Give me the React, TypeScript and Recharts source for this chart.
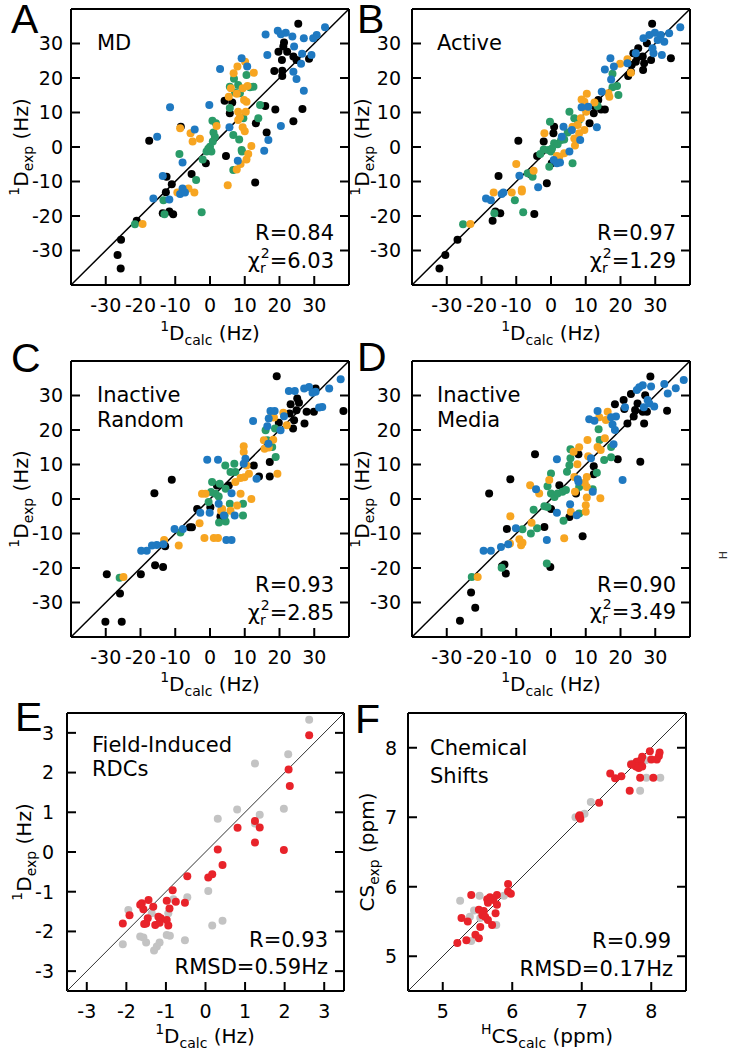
import React from "react";
import { ScatterChart, Scatter, XAxis, YAxis } from "recharts";

const FONT = "'DejaVu Sans', Verdana, sans-serif";
const LETTER_FONT = "'Liberation Sans', Arial, sans-serif";

const BLACK = "#000000";
const BLUE = "#1f79c1";
const ORANGE = "#f7a521";
const GREEN = "#2a9b68";
const RED = "#e8232a";
const GRAY = "#c3c3c3";

type Pt = [number, number];

// tick values
const rdcTicks = [-30, -20, -10, 0, 10, 20, 30];
const fieldTicks = [-3, -2, -1, 0, 1, 2, 3];
const csTicks = [5, 6, 7, 8];

// ---- panel A: MD ----
const aBlack: Pt[] = [
  [-25.6, -26.9], [-26.6, -31.3], [-25.7, -35.2], [-21.1, -21.4], [-13.6, -19.2], [-11.7, -18.7],
  [-10.6, -19.5], [-12.7, -13.1], [-11.0, -10.8], [-12.5, -8.6], [-5.3, -7.8], [-1.2, -4.7],
  [4.6, -2.6], [-17.5, 1.8], [-8.4, 5.9], [4.2, 13.4], [5.7, 9.8], [6.4, 12.9], [13.2, 6.9],
  [15.9, 11.9], [16.3, 4.2], [18.8, 10.9], [13.0, -10.3], [24.0, 7.5], [26.6, 11.0], [18.5, 22.0],
  [20.8, 20.6], [20.8, 22.1], [19.7, 27.6], [21.1, 29.1], [21.3, 30.3], [20.7, 25.2], [22.2, 27.6],
  [24.0, 26.2], [24.9, 25.2], [25.4, 35.7], [28.5, 25.6],
];
const aBlue: Pt[] = [
  [33.1, 34.7], [30.7, 32.5], [29.7, 31.5], [27.0, 31.5], [26.5, 27.0], [29.2, 26.7], [26.2, 24.1],
  [27.0, 16.3], [24.9, 19.7], [24.0, 21.8], [24.2, 29.1], [23.7, 32.0], [21.8, 33.1], [19.5, 33.7],
  [20.4, 32.7], [16.0, 32.6], [16.5, 26.7], [20.4, 6.1], [16.8, 2.0], [15.6, -1.1], [9.1, 25.7],
  [10.7, 23.3], [2.9, 22.6], [-0.2, 12.2], [5.6, 5.7], [8.0, -4.0], [-11.5, 11.5], [-15.2, 3.0],
  [-4.4, 5.1], [-7.9, -4.5], [-13.6, -8.4], [-16.3, -14.9], [-11.7, -15.2], [-7.9, -12.0],
  [-8.6, -13.6], [-7.2, -13.2],
];
const aOrange: Pt[] = [
  [-19.4, -22.3], [-8.6, 5.4], [-5.6, 4.0], [-5.0, 1.6], [-2.9, 2.4], [1.9, 6.1], [-6.2, -12.0],
  [-4.5, -13.2], [-9.4, -13.2], [5.1, -11.1], [7.7, -6.5], [8.8, -4.9], [10.5, -3.6], [11.0, -2.0],
  [11.9, 0.3], [7.9, 23.3], [10.1, 24.7], [12.6, 21.5], [6.8, 21.4], [10.8, 17.7], [6.0, 17.0],
  [7.7, 15.4], [5.4, 14.6], [9.8, 13.6], [9.4, 17.0], [10.5, 13.1], [8.1, 10.2], [10.3, 10.2],
  [8.6, 8.6], [9.4, 5.7], [10.0, 4.6], [8.1, 7.8],
];
const aGreen: Pt[] = [
  [-21.6, -22.4], [-13.4, -15.4], [-13.1, -19.5], [-2.4, -18.9], [-4.0, -9.6], [-8.8, -2.0],
  [-2.1, -3.6], [-1.0, -1.3], [0.0, 0.1], [0.8, 1.6], [1.4, 3.0], [1.0, 4.2], [1.7, 6.9], [0.7, 7.6],
  [-0.5, -0.5], [0.4, -1.3], [5.7, 11.3], [6.9, 19.8], [8.1, 18.0], [7.2, 15.8], [5.7, 17.5],
  [12.5, 17.5], [10.5, 20.9], [8.6, 15.6], [9.6, 8.3], [11.5, 17.3], [14.4, 12.2], [13.9, 8.3],
  [6.7, 3.5], [9.1, -0.9], [8.4, 2.2], [6.7, -6.7], [9.2, -1.3],
];

// ---- panel B: Active ----
const bBlack: Pt[] = [
  [-32.1, -35.2], [-30.4, -31.3], [-26.9, -26.9], [-16.8, -21.4], [-16.0, -18.7], [-14.6, -19.2],
  [-15.1, -8.4], [-9.4, 1.8], [-6.0, -7.8], [-4.0, -2.6], [-4.8, -19.4], [-1.2, -10.5], [-2.1, 1.6],
  [0.9, 5.9], [0.7, 4.0], [0.2, -4.7], [11.1, 6.9], [12.3, 9.8], [12.5, 11.9], [14.4, 10.9],
  [15.5, 10.9], [13.6, 13.6], [22.2, 20.6], [23.0, 21.8], [23.7, 27.2], [25.1, 28.6], [26.4, 26.2],
  [26.8, 24.3], [24.4, 24.7], [26.5, 22.3], [28.8, 25.2], [27.6, 30.1], [29.1, 35.7], [34.5, 25.7],
  [23.2, 23.8], [24.9, 26.0],
];
const bBlue: Pt[] = [
  [37.2, 34.7], [34.0, 33.0], [32.6, 30.5], [31.6, 32.5], [29.9, 33.1], [28.3, 32.5], [26.6, 31.5],
  [30.7, 31.0], [31.9, 26.7], [29.5, 27.2], [29.2, 28.6], [24.4, 27.2], [22.0, 24.3], [17.1, 25.7],
  [18.1, 23.3], [15.5, 22.5], [17.3, 19.6], [14.6, 16.0], [10.7, 11.7], [8.8, 11.5], [13.2, 5.7],
  [8.4, 2.0], [3.6, 5.9], [3.1, 3.0], [5.3, -1.3], [0.8, -3.8], [1.7, -4.7], [2.6, -4.5], [6.0, 4.9],
  [-3.7, -11.7], [-9.1, -8.3], [-13.7, -13.2], [-14.2, -13.6], [-18.7, -14.9], [-17.3, -15.4],
];
const bOrange: Pt[] = [
  [-23.2, -22.3], [-16.5, -13.2], [-11.3, -13.2], [-8.4, -12.3], [-10.0, -4.9], [-5.0, -6.9],
  [-1.9, 4.0], [2.4, -2.8], [3.8, -1.8], [6.9, 0.4], [8.1, 4.0], [9.6, 4.9], [7.7, 6.4], [6.2, 5.9],
  [8.6, 8.3], [10.1, 10.2], [9.6, 13.1], [8.8, 13.8], [10.3, 15.4], [12.5, 12.9], [16.5, 15.6],
  [16.8, 14.6], [19.9, 24.1], [23.0, 21.5], [22.0, 25.4], [6.7, 2.5], [-8.4, -12.9], [1.7, -2.6],
];
const bGreen: Pt[] = [
  [-25.3, -22.4], [-16.3, -19.2], [-10.4, -15.4], [-8.0, -18.9], [-6.7, -7.6], [-5.3, -8.6],
  [-3.1, -2.0], [-0.3, 7.3], [-0.8, -0.9], [0.0, -1.3], [0.9, 1.1], [1.9, 0.8], [2.9, 2.0],
  [3.8, 2.2], [4.8, 4.2], [-0.5, -5.7], [6.2, -4.7], [8.1, 7.8], [6.7, 8.3], [5.3, 10.2],
  [13.4, 11.9], [19.4, 15.1], [17.7, 17.3], [19.0, 17.7], [17.7, 21.2], [-2.1, -0.7], [0.3, -0.4],
];

// ---- panel C: Inactive Random ----
const cBlack: Pt[] = [
  [-30.1, -35.6], [-25.4, -35.6], [-25.9, -27.4], [-29.7, -21.8], [-19.9, -21.8], [-15.8, -19.2],
  [-13.5, -19.7], [-12.9, -13.7], [-16.0, 1.7], [-11.0, 5.6], [-5.8, -8.2], [-5.2, -8.2],
  [-3.7, -2.9], [0.1, -2.4], [2.0, 3.9], [3.0, -5.1], [5.4, 3.9], [12.6, 9.7], [14.1, 6.5],
  [17.2, 10.7], [17.2, 6.5], [19.2, 35.6], [19.8, 22.1], [22.9, 24.8], [23.9, 20.4], [23.2, 27.5],
  [25.1, 29.1], [24.9, 25.7], [25.6, 27.9], [27.2, 21.9], [27.8, 25.3], [29.9, 25.3], [30.4, 32.0],
  [38.4, 25.5], [24.2, 22.8],
];
const cBlue: Pt[] = [
  [37.6, 34.7], [34.3, 32.0], [32.3, 26.7], [31.4, 26.5], [30.4, 31.1], [29.5, 30.8], [28.5, 32.5],
  [27.1, 32.0], [24.4, 31.3], [22.7, 31.3], [21.3, 24.0], [20.3, 19.9], [18.6, 25.5], [17.4, 25.5],
  [16.9, 23.3], [16.5, 21.1], [12.4, 22.6], [16.8, 16.0], [10.2, 11.7], [9.7, 10.2], [13.4, 5.9],
  [2.3, 11.4], [-0.8, 11.4], [2.5, -1.4], [-0.1, -4.0], [-2.8, -4.0], [6.2, 1.7], [4.0, -4.8],
  [7.1, -4.8], [4.7, -11.9], [6.2, -11.9], [-10.2, -8.7], [-7.8, -8.7], [-13.4, -13.1],
  [-15.3, -13.3], [-16.7, -13.5], [-18.2, -15.0], [-19.8, -15.0],
];
const cOrange: Pt[] = [
  [-24.9, -22.6], [-13.2, -11.9], [-9.0, -13.5], [-3.0, -7.0], [-2.3, 1.5], [-1.3, 1.5],
  [-1.6, -11.3], [1.1, -11.3], [2.3, -11.3], [3.2, -3.4], [5.9, -3.4], [7.8, -1.9], [7.3, 4.9],
  [8.8, 6.1], [9.9, 6.3], [9.7, 15.3], [9.7, 13.6], [10.5, 9.7], [11.2, 7.3], [11.9, 0.0],
  [15.5, 17.0], [15.7, 14.6], [16.9, 14.9], [18.2, 17.2], [19.4, 7.3], [21.1, 25.0], [22.1, 21.4],
  [18.4, 23.6], [17.4, 23.6], [8.8, 1.5], [3.5, -2.9],
];
const cGreen: Pt[] = [
  [-26.0, -22.8], [-8.5, -9.7], [-0.4, -0.9], [0.3, 2.0], [1.6, 1.5], [2.5, 0.7], [0.6, 4.9],
  [2.8, 4.4], [4.5, 3.0], [5.9, 7.8], [7.0, 10.2], [7.3, 7.8], [4.4, 9.7], [4.2, -4.8], [2.6, -6.8],
  [4.5, -6.5], [9.5, -1.4], [9.5, -4.8], [5.7, -1.4], [16.0, 19.9], [16.5, 17.0], [17.9, 15.1],
  [18.9, 12.2], [18.7, 20.4],
];

// ---- panel D: Inactive Media ----
const dBlack: Pt[] = [
  [-26.2, -35.3], [-23.0, -27.1], [-21.8, -31.5], [-13.0, -21.6], [-13.4, -19.0], [-14.1, -19.5],
  [-12.7, -8.7], [-11.7, 5.7], [-17.8, 1.6], [-4.6, 13.0], [-1.9, -8.1], [-0.2, -19.7], [0.0, -2.9],
  [2.4, 4.0], [5.3, -5.2], [7.2, 1.6], [7.9, 13.0], [9.1, -10.8], [12.3, 9.5], [12.3, 7.2],
  [19.2, 11.5], [25.7, 10.8], [18.4, 27.5], [20.9, 28.7], [22.0, 21.9], [23.0, 30.4], [23.8, 23.9],
  [24.2, 25.8], [24.9, 27.7], [26.4, 25.3], [27.6, 25.3], [26.8, 21.9], [28.6, 35.5], [27.1, 30.1],
  [33.4, 25.6], [21.1, 26.1],
];
const dBlue: Pt[] = [
  [38.2, 34.5], [35.9, 32.1], [33.6, 30.6], [32.6, 33.3], [28.8, 32.6], [27.8, 28.7], [28.3, 27.7],
  [29.7, 26.8], [26.7, 26.6], [26.4, 33.0], [25.4, 32.4], [24.7, 31.6], [18.7, 23.9], [21.3, 26.6],
  [13.4, 25.5], [11.0, 23.1], [12.5, 22.7], [17.3, 23.7], [17.7, 21.6], [18.4, 20.0], [18.0, 15.9],
  [11.5, 11.8], [12.0, 2.1], [1.7, 11.5], [7.7, 5.7], [7.9, 5.0], [20.6, 5.5], [5.5, -1.5],
  [1.7, -4.0], [7.4, -4.7], [-4.3, 2.8], [-1.2, -11.9], [-10.1, -8.5], [-12.3, -13.1],
  [-14.4, -13.9], [-17.3, -15.0], [-19.4, -15.0],
];
const dOrange: Pt[] = [
  [-21.1, -22.6], [-11.7, -5.0], [-11.8, -12.9], [-9.1, -11.7], [-8.2, -12.7], [-8.6, -13.4],
  [-5.6, -6.9], [-6.0, 4.0], [-3.4, 1.6], [-0.5, 5.5], [3.8, -11.4], [5.7, -3.7], [6.7, 6.4],
  [7.6, 10.1], [8.1, 15.0], [6.5, 13.7], [10.3, 6.4], [9.7, 4.7], [10.3, 3.5], [10.3, 0.4],
  [10.0, -1.8], [10.0, -3.7], [14.2, 0.2], [10.5, 17.1], [10.7, 12.4], [13.4, 15.1], [14.3, 14.2],
  [15.5, 17.6], [16.3, 25.3], [15.8, 22.9], [13.9, 23.7], [6.9, 2.1],
];
const dGreen: Pt[] = [
  [-22.8, -22.6], [-14.2, -19.9], [-1.2, -18.7], [-8.2, -8.8], [-5.8, -10.0], [-4.0, -8.5],
  [-5.0, -3.1], [-1.9, -2.1], [-1.0, -2.3], [0.0, 1.6], [1.0, 0.6], [1.9, 1.6], [3.3, 2.1],
  [4.3, 2.6], [-1.0, 3.7], [0.0, 7.4], [4.6, 7.9], [5.3, 9.8], [5.6, 11.8], [5.6, 14.4], [3.6, -6.3],
  [8.1, -4.2], [8.1, 3.5], [12.0, 2.8], [13.2, 7.6], [14.0, 17.1], [13.7, 20.2], [17.3, 15.1],
  [17.3, 12.1], [15.3, 11.3],
];

// ---- panel E: field-induced RDCs ----
const eGray: Pt[] = [
  [2.62, 3.33], [2.09, 2.46], [1.98, 1.09], [1.25, 2.23], [1.37, 0.94], [1.25, 0.72], [0.8, 1.07],
  [0.31, 0.84], [0.07, -0.98], [0.43, -1.73], [0.17, -1.85], [-0.46, -1.14], [-0.52, -2.22],
  [-0.81, -1.19], [-0.94, -1.54], [-0.98, -2.09], [-0.9, -2.11], [-1.16, -2.28], [-1.23, -2.38],
  [-1.3, -2.48], [-1.5, -2.28], [-1.57, -2.15], [-1.65, -2.13], [-1.95, -1.46], [-2.09, -2.32],
  [-1.36, -1.54],
];
const eRed: Pt[] = [
  [2.62, 2.94], [2.1, 2.08], [2.13, 1.66], [1.98, 0.05], [0.81, 0.61], [1.25, 0.78], [1.37, 0.62],
  [1.25, 0.24], [0.31, 0.06], [0.43, -0.33], [0.07, -0.64], [0.17, -0.56], [-0.46, -0.61],
  [-0.83, -0.96], [-0.52, -1.28], [-0.75, -1.25], [-0.98, -1.23], [-0.91, -1.42], [-0.94, -1.85],
  [-0.98, -1.71], [-1.13, -1.67], [-1.19, -1.63], [-1.32, -1.38], [-1.44, -1.21], [-1.61, -1.29],
  [-1.57, -1.44], [-1.65, -1.33], [-1.46, -1.67], [-1.5, -1.8], [-1.27, -1.84], [-1.16, -1.78],
  [-1.55, -1.81], [-1.92, -1.59], [-2.09, -1.8],
];

// ---- panel F: chemical shifts ----
const fGray: Pt[] = [
  [8.13, 7.57], [7.93, 7.57], [7.84, 7.38], [7.71, 7.77], [7.92, 7.82], [7.13, 7.22], [7.04, 7.05],
  [6.91, 7.0], [5.25, 5.8], [5.53, 5.87], [5.39, 5.57], [5.45, 5.66], [5.41, 5.22], [5.77, 5.45],
  [5.88, 5.87], [5.54, 5.55],
];
const fRed: Pt[] = [
  [7.98, 7.95], [8.0, 7.83], [8.08, 7.83], [8.11, 7.88], [8.12, 7.93], [7.87, 7.87], [7.85, 7.82],
  [7.79, 7.8], [7.73, 7.76], [7.78, 7.73], [7.87, 7.73], [7.82, 7.71], [7.71, 7.76], [8.03, 7.57],
  [7.84, 7.57], [7.41, 7.63], [7.48, 7.56], [7.57, 7.59], [7.69, 7.38], [7.25, 7.21], [6.97, 7.03],
  [6.98, 6.98], [6.96, 7.01], [5.94, 6.04], [5.98, 5.9], [5.94, 5.93], [5.78, 5.88], [5.73, 5.81],
  [5.78, 5.74], [5.68, 5.85], [5.64, 5.82], [5.76, 5.62], [5.59, 5.65], [5.52, 5.67], [5.57, 5.59],
  [5.61, 5.57], [5.65, 5.52], [5.71, 5.45], [5.54, 5.42], [5.41, 5.88], [5.27, 5.55], [5.36, 5.5],
  [5.47, 5.31], [5.52, 5.26], [5.34, 5.23], [5.21, 5.19], [5.65, 5.77],
];

const toObj = (pts: Pt[]) => pts.map(([x, y]) => ({ x, y }));

type Series = { pts: Pt[]; color: string };

interface PanelProps {
  left: number;
  top: number;
  w: number;
  h: number;
  domain: [number, number];
  ticks: number[];
  series: Series[];
  diagColor: string;
  diagWidth: number;
  yGap: number;
}

const AX = { stroke: "#000", strokeWidth: 2 };
const TL = 9; // inward tick length
const PL = 70; // plot left inside the chart svg
const PT = 10; // plot top inside the chart svg

function Panel({ left, top, w, h, domain, ticks, series, diagColor, diagWidth, yGap }: PanelProps) {
  const diag = [
    { x: domain[0], y: domain[0] },
    { x: domain[1], y: domain[1] },
  ];
  const bottom = PT + h;
  const right = PL + w;

  // ticks point into the plot, labels only on the bottom and left sides
  const bottomTick = (p: any) => {
    const c = p.payload.coordinate;
    return (
      <g>
        <line x1={c} x2={c} y1={bottom} y2={bottom - TL} stroke="#000" strokeWidth={2} />
        <text x={c} y={bottom + 27} textAnchor="middle" fontFamily={FONT} fontSize={19} fill="#000">
          {p.payload.value}
        </text>
      </g>
    );
  };
  const topTick = (p: any) => {
    const c = p.payload.coordinate;
    return <line x1={c} x2={c} y1={PT} y2={PT + TL} stroke="#000" strokeWidth={2} />;
  };
  const leftTick = (p: any) => {
    const c = p.payload.coordinate;
    return (
      <g>
        <line x1={PL} x2={PL + TL} y1={c} y2={c} stroke="#000" strokeWidth={2} />
        <text x={PL - yGap} y={c} dy="0.36em" textAnchor="end" fontFamily={FONT} fontSize={19} fill="#000">
          {p.payload.value}
        </text>
      </g>
    );
  };
  const rightTick = (p: any) => {
    const c = p.payload.coordinate;
    return <line x1={right} x2={right - TL} y1={c} y2={c} stroke="#000" strokeWidth={2} />;
  };

  return (
    <div style={{ position: "absolute", left: left - PL, top: top - PT }}>
      <ScatterChart width={w + 85} height={h + 70} margin={{ top: PT - 1, right: 14, bottom: 0, left: 0 }}>
        <XAxis xAxisId="b" type="number" dataKey="x" orientation="bottom" height={60} domain={domain}
          ticks={ticks} interval={0} allowDataOverflow axisLine={AX} tickLine={false} tick={bottomTick} />
        <XAxis xAxisId="t" type="number" orientation="top" height={1} domain={domain} ticks={ticks}
          interval={0} allowDataOverflow axisLine={AX} tickLine={false} tick={topTick} />
        <YAxis yAxisId="l" type="number" dataKey="y" orientation="left" width={PL} domain={domain}
          ticks={ticks} interval={0} allowDataOverflow axisLine={AX} tickLine={false} tick={leftTick} />
        <YAxis yAxisId="r" type="number" orientation="right" width={1} domain={domain} ticks={ticks}
          interval={0} allowDataOverflow axisLine={AX} tickLine={false} tick={rightTick} />
        <Scatter xAxisId="b" yAxisId="l" data={diag} line={{ stroke: diagColor, strokeWidth: diagWidth }}
          shape={() => <g />} isAnimationActive={false} />
        {series.map((s, i) => (
          <Scatter key={i} xAxisId="b" yAxisId="l" data={toObj(s.pts)} fill={s.color}
            shape={(p: any) => <circle cx={p.cx} cy={p.cy} r={4} fill={s.color} />}
            isAnimationActive={false} />
        ))}
      </ScatterChart>
    </div>
  );
}

function XTitle({ cx, y, sup, main, sub, unit }: { cx: number; y: number; sup?: string; main: string; sub: string; unit: string }) {
  return (
    <text x={cx} y={y} textAnchor="middle" fontFamily={FONT} fontSize={20} fill="#000">
      {sup ? <tspan fontSize={14} dy={-9}>{sup}</tspan> : null}
      <tspan dy={sup ? 9 : 0}>{main}</tspan>
      <tspan fontSize={14} dy={5}>{sub}</tspan>
      <tspan dy={-5}>{" " + unit}</tspan>
    </text>
  );
}

function YTitle({ x, cy, sup, main, sub, unit }: { x: number; cy: number; sup?: string; main: string; sub: string; unit: string }) {
  return (
    <g transform={`translate(${x},${cy}) rotate(-90)`}>
      <XTitle cx={0} y={0} sup={sup} main={main} sub={sub} unit={unit} />
    </g>
  );
}

function Chi({ right, y, value }: { right: number; y: number; value: string }) {
  return (
    <text x={right} y={y} textAnchor="end" fontFamily={FONT} fontSize={21} fill="#000">
      χ
      <tspan fontSize={14} dy={5}>r</tspan>
      <tspan fontSize={14} dx={-5} dy={-15}>2</tspan>
      <tspan dy={10}>{"=" + value}</tspan>
    </text>
  );
}

function Txt({ x, y, anchor, children, size }: { x: number; y: number; anchor?: string; children: any; size?: number }) {
  return (
    <text x={x} y={y} textAnchor={anchor || "start"} fontFamily={FONT} fontSize={size || 21} fill="#000">
      {children}
    </text>
  );
}

function Letter({ x, y, t }: { x: number; y: number; t: string }) {
  return (
    <text x={x} y={y} fontFamily={LETTER_FONT} fontSize={41} fill="#000">
      {t}
    </text>
  );
}

export default function App() {
  return (
    <div style={{ position: "absolute", left: 0, top: 0, width: 729, height: 1050, background: "#fff" }}>
      <Panel left={71} top={9} w={278} h={276} domain={[-40, 40]} ticks={rdcTicks} yGap={8}
        diagColor="#000" diagWidth={1.5}
        series={[{ pts: aBlack, color: BLACK }, { pts: aGreen, color: GREEN }, { pts: aOrange, color: ORANGE }, { pts: aBlue, color: BLUE }]} />
      <Panel left={412} top={9} w={278} h={276} domain={[-40, 40]} ticks={rdcTicks} yGap={11}
        diagColor="#000" diagWidth={1.5}
        series={[{ pts: bBlack, color: BLACK }, { pts: bGreen, color: GREEN }, { pts: bOrange, color: ORANGE }, { pts: bBlue, color: BLUE }]} />
      <Panel left={71} top={361} w={278} h={276} domain={[-40, 40]} ticks={rdcTicks} yGap={8}
        diagColor="#000" diagWidth={1.5}
        series={[{ pts: cBlack, color: BLACK }, { pts: cGreen, color: GREEN }, { pts: cOrange, color: ORANGE }, { pts: cBlue, color: BLUE }]} />
      <Panel left={412} top={361} w={278} h={276} domain={[-40, 40]} ticks={rdcTicks} yGap={11}
        diagColor="#000" diagWidth={1.5}
        series={[{ pts: dBlack, color: BLACK }, { pts: dGreen, color: GREEN }, { pts: dOrange, color: ORANGE }, { pts: dBlue, color: BLUE }]} />
      <Panel left={67} top={713} w={277} h={278} domain={[-3.5, 3.5]} ticks={fieldTicks} yGap={13}
        diagColor="#333" diagWidth={1}
        series={[{ pts: eGray, color: GRAY }, { pts: eRed, color: RED }]} />
      <Panel left={408} top={713} w={278} h={278} domain={[4.5, 8.5]} ticks={csTicks} yGap={11}
        diagColor="#333" diagWidth={1}
        series={[{ pts: fGray, color: GRAY }, { pts: fRed, color: RED }]} />

      <svg width={729} height={1050} style={{ position: "absolute", left: 0, top: 0, pointerEvents: "none" }}>
        <Letter x={11} y={33} t="A" />
        <Letter x={357} y={33} t="B" />
        <Letter x={11} y={372} t="C" />
        <Letter x={357} y={371} t="D" />
        <Letter x={15} y={731} t="E" />
        <Letter x={355} y={733} t="F" />

        <Txt x={97} y={50}>MD</Txt>
        <Txt x={437} y={50}>Active</Txt>
        <Txt x={97} y={402}>Inactive</Txt>
        <Txt x={97} y={427}>Random</Txt>
        <Txt x={437} y={402}>Inactive</Txt>
        <Txt x={437} y={427}>Media</Txt>
        <Txt x={92} y={752}>Field-Induced</Txt>
        <Txt x={92} y={776}>RDCs</Txt>
        <Txt x={430} y={755}>Chemical</Txt>
        <Txt x={430} y={783}>Shifts</Txt>

        <Txt x={334} y={240} anchor="end">R=0.84</Txt>
        <Chi right={334} y={268} value="6.03" />
        <Txt x={676} y={240} anchor="end">R=0.97</Txt>
        <Chi right={676} y={268} value="1.29" />
        <Txt x={334} y={592} anchor="end">R=0.93</Txt>
        <Chi right={334} y={620} value="2.85" />
        <Txt x={676} y={592} anchor="end">R=0.90</Txt>
        <Chi right={676} y={619} value="3.49" />
        <Txt x={328} y={947} anchor="end">R=0.93</Txt>
        <Txt x={328} y={974} anchor="end">RMSD=0.59Hz</Txt>
        <Txt x={671} y={948} anchor="end">R=0.99</Txt>
        <Txt x={673} y={976} anchor="end">RMSD=0.17Hz</Txt>

        <XTitle cx={210} y={340} sup="1" main="D" sub="calc" unit="(Hz)" />
        <XTitle cx={551} y={340} sup="1" main="D" sub="calc" unit="(Hz)" />
        <XTitle cx={210} y={691} sup="1" main="D" sub="calc" unit="(Hz)" />
        <XTitle cx={551} y={691} sup="1" main="D" sub="calc" unit="(Hz)" />
        <XTitle cx={205} y={1043} sup="1" main="D" sub="calc" unit="(Hz)" />
        <XTitle cx={547} y={1043} sup="H" main="CS" sub="calc" unit="(ppm)" />

        <YTitle x={28} cy={147} sup="1" main="D" sub="exp" unit="(Hz)" />
        <YTitle x={369} cy={147} sup="1" main="D" sub="exp" unit="(Hz)" />
        <YTitle x={28} cy={499} sup="1" main="D" sub="exp" unit="(Hz)" />
        <YTitle x={369} cy={499} sup="1" main="D" sub="exp" unit="(Hz)" />
        <YTitle x={31} cy={852} sup="1" main="D" sub="exp" unit="(Hz)" />
        <YTitle x={374} cy={852} main="CS" sub="exp" unit="(ppm)" />

        <text transform="translate(727,555) rotate(-90)" textAnchor="middle" fontFamily={FONT} fontSize={11} fill="#333">H</text>
      </svg>
    </div>
  );
}
